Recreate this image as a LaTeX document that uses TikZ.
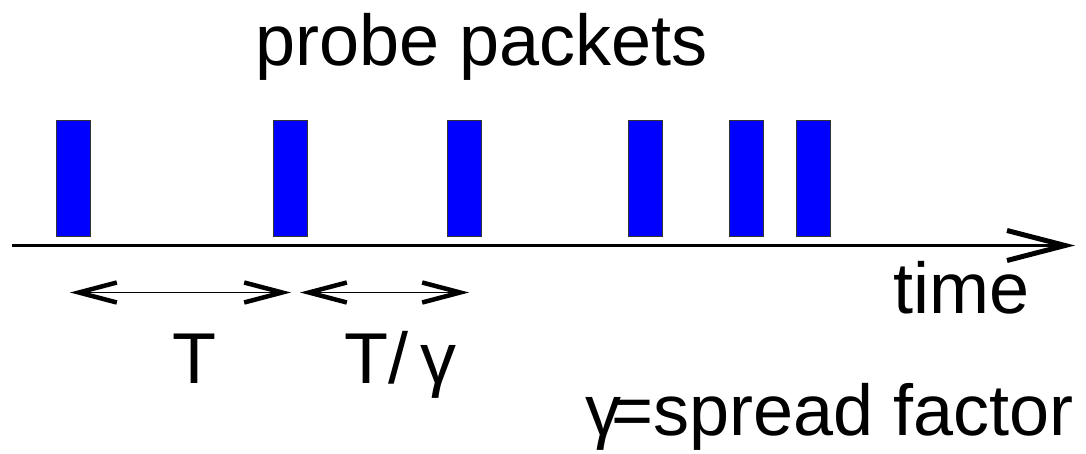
\documentclass[tikz,border=0pt]{standalone}
\usepackage{fontspec}
\setmainfont{Liberation Sans}
\usetikzlibrary{arrows.meta}
\begin{document}
\begin{tikzpicture}[x=1pt,y=-1pt,
  packet/.style={draw=black!80,line width=1pt,fill=blue,minimum width=34pt,minimum height=116pt,inner sep=0pt},
  lbl/.style={anchor=base west,inner sep=0pt,font=\fontsize{72}{80}\selectfont},
  axis/.style={line width=3.5pt,-{Straight Barb[length=58pt,width=30pt,line width=5pt]}},
  span/.style={line width=1.6pt,{Straight Barb[length=38pt,width=20pt,line width=4.5pt]}-{Straight Barb[length=38pt,width=20pt,line width=4.5pt]}}]
\useasboundingbox (0,0) rectangle (1086,454);
\node[lbl] (title) at (255,66) {probe packets};
\node[packet] (p1) at (73,179) {};
\node[packet] (p2) at (290,179) {};
\node[packet] (p3) at (464,179) {};
\node[packet] (p4) at (645.5,179) {};
\node[packet] (p5) at (746.5,179) {};
\node[packet] (p6) at (813.5,179) {};
\coordinate (a0) at (12,245.5);
\coordinate (a1) at (1075,245.5);
\draw[axis] (a0) -- (a1);
\coordinate (s0) at (70,292.5);
\coordinate (s1) at (291,292.5);
\coordinate (s2) at (300,292.5);
\coordinate (s3) at (469,292.5);
\draw[span] (s0) -- (s1);
\draw[span] (s2) -- (s3);
\node[lbl] (time) at (893,313) {time};
\node[lbl] (T) at (172,383) {T};
\node[lbl] (Tg) at (344,383) {T/\,γ};
\node[lbl] (gamma) at (585,435) {γ\kern-10pt=spread factor};
\end{tikzpicture}
\end{document}
